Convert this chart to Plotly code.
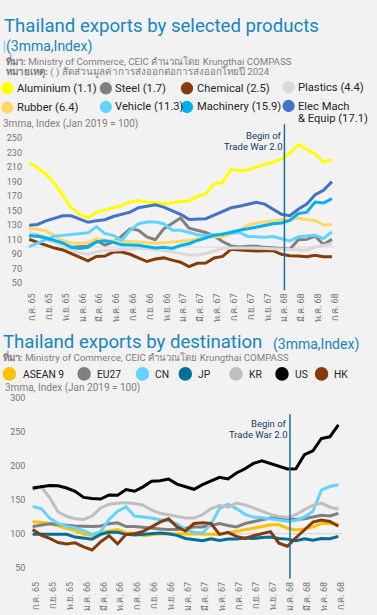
import plotly.graph_objects as go

W, H = 377, 615

# ---------------- data ----------------
months = ["ก.ค. 65", "ส.ค. 65", "ก.ย. 65", "ต.ค. 65", "พ.ย. 65", "ธ.ค. 65",
          "ม.ค. 66", "ก.พ. 66", "มี.ค. 66", "เม.ย. 66", "พ.ค. 66", "มิ.ย. 66",
          "ก.ค. 66", "ส.ค. 66", "ก.ย. 66", "ต.ค. 66", "พ.ย. 66", "ธ.ค. 66",
          "ม.ค. 67", "ก.พ. 67", "มี.ค. 67", "เม.ย. 67", "พ.ค. 67", "มิ.ย. 67",
          "ก.ค. 67", "ส.ค. 67", "ก.ย. 67", "ต.ค. 67", "พ.ย. 67", "ธ.ค. 67",
          "ม.ค. 68", "ก.พ. 68", "มี.ค. 68", "เม.ย. 68", "พ.ค. 68", "มิ.ย. 68",
          "ก.ค. 68"]
tick_months = months[::2]
trade_war_start = 30.35  # position on the month scale (mid-Jan 2025)

# products (3mma index, Jan 2019 = 100)
aluminium = [216, 209, 200, 188, 171, 154, 145, 140, 148, 151, 155, 157, 162, 164, 162, 161, 160, 160.5, 163,
             163, 170, 173, 187, 189, 207, 205, 206, 210, 213, 217, 221, 229, 241, 234, 228, 217, 220]
steel = [116, 115, 112, 107, 102.5, 99.5, 100, 101, 109, 102.5, 107, 115, 125, 123, 114, 110, 125, 133, 140,
         126, 123.5, 120, 115, 107.5, 101.5, 100, 101, 101, 99.5, 98.5, 97.5, 97, 110, 110.5, 115, 103.5, 110.5]
chemical = [110.5, 106.5, 102.5, 98.5, 96, 91, 85, 81, 87, 87.5, 93, 93, 90, 85, 80, 83.5, 85, 82, 79,
            73, 77.5, 78, 85, 87, 97, 96, 95, 94.5, 95, 95, 90, 88, 87.5, 86.5, 88.5, 86.5, 86.5]
plastics = [120.5, 117.5, 114, 107, 101, 96, 92, 90, 93.5, 95.5, 95.5, 96.5, 96.5, 98, 98, 96.5, 95.5, 93.5, 91,
            89, 89, 91, 94.5, 98, 98.5, 98, 98.5, 98.5, 98, 97, 97, 95.5, 95.5, 95.5, 100, 102, 104.5]
rubber = [125.5, 124.5, 122, 115.5, 109, 105.5, 105, 105.8, 111.5, 109, 109, 108, 107.5, 106.5, 105.5, 105, 106, 107, 108,
          109, 111.5, 114, 114, 114, 118.5, 123, 130, 133, 134.5, 136.5, 137.5, 137.5, 140, 137.5, 136.5, 130, 131]
vehicle = [100.5, 105, 110, 115, 116, 117.5, 119, 119.5, 128, 118.5, 116, 109, 123, 132, 134.5, 134.5, 132, 123, 123,
           119.5, 117, 116, 117, 118, 118.5, 120, 114.5, 113.5, 113.5, 114.5, 111.5, 108.5, 114, 114.5, 116, 111.5, 121]
machinery = [115, 115, 112.5, 109.5, 105.5, 99.5, 98, 99.5, 107, 108.5, 106.5, 103, 102.5, 102.5, 100.5, 98.5, 99.5, 98, 102,
             104.5, 109, 113, 116, 117.5, 120.5, 123, 125, 127.5, 130, 132, 133, 136.5, 146, 148, 162, 160.5, 166.5]
elec_mach = [130, 131, 136, 140, 143, 143, 138, 134, 136, 137.5, 142, 145, 148, 154, 156, 158, 155, 150, 145,
             138, 138, 139, 144, 149, 154, 156, 158.5, 161.5, 159, 152, 145, 143, 152, 159, 172, 178, 190]

product_names = ["Aluminium (1.1)", "Steel (1.7)", "Chemical (2.5)", "Plastics (4.4)",
                 "Rubber (6.4)", "Vehicle (11.3)", "Machinery (15.9)", "Elec Mach<br>& Equip (17.1)"]
product_values = [aluminium, steel, chemical, plastics, rubber, vehicle, machinery, elec_mach]
product_colors = ["#FFFF00", "#808080", "#843C0C", "#D9D9D9", "#FFD966", "#63D4FF", "#00B0F0", "#4472C4"]

# destinations (3mma index, Jan 2019 = 100)
asean9 = [117.5, 117, 115, 111, 108, 104.5, 99.5, 97.5, 102, 104, 106, 101.5, 101, 97, 98.5, 99.5, 100, 100, 99.5,
          99, 99.5, 100, 99, 101, 104, 106, 108, 111, 113, 113, 108, 105.5, 107, 110, 115, 115, 114]
eu27 = [110.5, 112.5, 114.5, 113.5, 112, 111.5, 111, 110.5, 111.5, 114.5, 116, 110.5, 110.5, 109, 108, 107, 106, 106, 108,
        110, 110, 113, 115, 112, 110, 115, 118, 121, 123, 123, 122, 121, 122, 125, 127, 126, 130]
cn = [140, 137, 123, 115, 111, 108.5, 104.5, 99, 103, 121, 133, 139.5, 126, 125, 123, 120.5, 119, 114.5, 106.5,
      102, 101, 114, 137, 143.5, 137, 128.5, 124.5, 123.5, 122, 120.5, 118.5, 119.5, 124.5, 133, 164, 169.5, 172]
jp = [99, 99, 98.5, 99, 99, 95, 93, 92, 99, 102, 102, 99, 98, 99, 100, 101, 100, 97.5, 93,
      91.5, 89.5, 92.5, 90, 92, 92, 93.5, 93, 94.5, 95, 93, 92, 89.5, 92.5, 90.5, 93, 92.5, 96]
kr = [165, 169, 153, 132, 125.5, 122, 121, 126, 138, 143.5, 145, 145.5, 144.5, 142, 135, 130, 128, 126, 123,
      123, 128, 137, 141.5, 139, 145, 142.5, 138, 133, 128.5, 125.5, 124, 128, 135.5, 141.5, 145, 139, 136.5]
us = [167.3, 169, 171, 170.5, 167.3, 162.5, 153.5, 152, 151, 157, 156.5, 165, 162.5, 169, 177.2, 178, 180.6, 173, 169,
      165.4, 172.3, 177.2, 183, 180.6, 189.4, 195.7, 203.6, 207.5, 203.6, 199.7, 195.3, 195.7, 216.3, 222.1, 240.2, 242.7, 260.2]
hk = [106, 98, 93, 87, 85, 86.5, 80.5, 76, 88, 97, 85, 99, 100, 103.5, 110, 117, 122, 110, 104,
      115, 116, 115, 99, 102, 96, 93, 97, 100, 103, 86, 81.5, 94, 105.5, 117, 120, 118, 111]

dest_names = ["ASEAN 9", "EU27", "CN", "JP", "KR", "US", "HK"]
dest_values = [asean9, eu27, cn, jp, kr, us, hk]
dest_colors = ["#FFC000", "#7F7F7F", "#63D4FF", "#006E96", "#BFBFBF", "#000000", "#843C0C"]

top_ticks = list(range(50, 251, 20))
bot_ticks = list(range(50, 301, 50))

# ---------------- styling ----------------
BG = "#F2F2F2"
TITLE_C = "#1786BA"
GRAY_T = "#7F7F7F"
DARK_T = "#262626"
NAVY = "#203864"
VLINE_C = "#1B6F98"
FONT = "Roboto, Noto Sans, Open Sans, sans-serif"


def px(x):
    return x / W


def py(y):
    return 1 - y / H


fig = go.Figure()
for name, vals, col in zip(product_names, product_values, product_colors):
    fig.add_trace(go.Scatter(x=months, y=vals, mode="lines", name=name.replace("<br>", " "),
                             line=dict(color=col, width=3), xaxis="x", yaxis="y",
                             showlegend=False, hoverinfo="skip"))
for name, vals, col in zip(dest_names, dest_values, dest_colors):
    fig.add_trace(go.Scatter(x=months, y=vals, mode="lines", name=name,
                             line=dict(color=col, width=3), xaxis="x2", yaxis="y2",
                             showlegend=False, hoverinfo="skip"))

axis_common = dict(showgrid=False, zeroline=False, showline=False, ticks="")
tickfont = dict(family=FONT, size=9, color="#737373")

fig.update_layout(
    width=W, height=H,
    margin=dict(l=0, r=0, t=0, b=0),
    paper_bgcolor=BG, plot_bgcolor=BG,
    font=dict(family=FONT),
    showlegend=False,
    xaxis=dict(domain=[px(25.25), px(339.75)], anchor="y", type="category",
               categoryorder="array", categoryarray=months,
               range=[-0.5, 36.5], tickmode="array", tickvals=tick_months,
               tickangle=-90, tickfont=tickfont, ticklabelshift=3, **axis_common),
    yaxis=dict(domain=[py(289), py(121.1)], anchor="x", range=[40, 270],
               tickmode="array", tickvals=top_ticks, tickfont=tickfont,
               ticklabelstandoff=2, **axis_common),
    xaxis2=dict(domain=[px(28.7), px(346.3)], anchor="y2", type="category",
                categoryorder="array", categoryarray=months,
                range=[-0.5, 36.5], tickmode="array", tickvals=tick_months,
                tickangle=-90, tickfont=tickfont, ticklabelshift=3, **axis_common),
    yaxis2=dict(domain=[py(579), py(395.5)], anchor="x2", range=[33, 302],
                tickmode="array", tickvals=bot_ticks, tickfont=tickfont,
                ticklabelstandoff=2, **axis_common),
)

shapes = []
# 100 baselines
shapes.append(dict(type="line", xref="x", yref="y", x0=-0.3, x1=36.3, y0=100, y1=100,
                   line=dict(color="#D9D9D9", width=1.2), layer="below"))
shapes.append(dict(type="line", xref="x2", yref="y2", x0=-0.3, x1=36.5, y0=100, y1=100,
                   line=dict(color="#D9D9D9", width=1.2), layer="below"))
# trade war markers
shapes.append(dict(type="line", xref="x", yref="y", x0=trade_war_start, x1=trade_war_start,
                   y0=40, y1=269, line=dict(color=VLINE_C, width=1.5)))
shapes.append(dict(type="line", xref="x2", yref="y2", x0=trade_war_start - 0.05, x1=trade_war_start - 0.05,
                   y0=34, y1=276, line=dict(color=VLINE_C, width=1.5)))
# accent bar near subtitle
shapes.append(dict(type="line", xref="paper", yref="paper", x0=px(4.5), x1=px(4.5), y0=py(50), y1=py(38),
                   line=dict(color="#8FD3EE", width=1.5)))

annotations = []


def text(x, y, s, size, color, anchor="left"):
    annotations.append(dict(xref="paper", yref="paper", x=px(x), y=py(y), text=s,
                            showarrow=False, xanchor=anchor, yanchor="middle",
                            align=anchor if anchor != "center" else "center",
                            font=dict(family=FONT, size=size, color=color)))


def dot(cx, cy, r, color):
    shapes.append(dict(type="circle", xref="paper", yref="paper",
                       x0=px(cx - r), x1=px(cx + r), y0=py(cy + r), y1=py(cy - r),
                       fillcolor=color, line=dict(width=0)))


# ---- top block text ----
text(2, 23.5, "Thailand exports by selected products", 18.6, TITLE_C)
text(4, 44, "(3mma,Index)", 14, TITLE_C)
text(4, 58, "<b>ที่มา:</b> Ministry of Commerce, CEIC คำนวณโดย Krungthai COMPASS", 9.7, GRAY_T)
text(4, 69, "<b>หมายเหตุ:</b> ( ) สัดส่วนมูลค่าการส่งออกต่อการส่งออกไทยปี 2024", 9.8, GRAY_T)

leg_top = [(7.3, 85.7, 15), (107, 85.7, 114.5), (189, 85.7, 197.5), (291.7, 84.5, 299),
           (7.3, 105, 15), (107, 104.5, 114.5), (189, 104.5, 197.5), (291.7, 103.5, 299)]
for (cx, cy, tx), name, col in zip(leg_top, product_names, product_colors):
    dot(cx, cy, 6.2, col)
    if "<br>" in name:
        l1, l2 = name.split("<br>")
        text(tx, 104.5, l1, 11.2, DARK_T)
        text(tx, 116, l2, 11.2, DARK_T)
    else:
        text(tx, cy, name, 11.2, DARK_T)

text(1, 121.5, "3mma, Index (Jan 2019 = 100)", 10, GRAY_T)
text(287.5, 133.3, "Begin of", 9.5, NAVY, anchor="right")
text(287.5, 144.3, "Trade War 2.0", 9.5, NAVY, anchor="right")

# ---- bottom block text ----
text(1, 340.5, "Thailand exports by destination", 18.6, TITLE_C)
text(274, 343, "(3mma,Index)", 14, TITLE_C)
text(1, 355.5, "<b>ที่มา:</b> Ministry of Commerce, CEIC คำนวณโดย Krungthai COMPASS", 9.7, GRAY_T)

leg_bot = [(9.5, 21), (85, 96), (144, 155), (187.3, 198.5), (238.5, 250), (285, 296.5), (325, 335.5)]
for (cx, tx), name, col in zip(leg_bot, dest_names, dest_colors):
    dot(cx, 372.7, 6.8, col)
    text(tx, 373, name, 10.3, DARK_T)

text(3, 386.5, "3mma, Index (Jan 2019 = 100)", 10, GRAY_T)
text(292.5, 422.7, "Begin of", 9.5, NAVY, anchor="right")
text(292.5, 433.5, "Trade War 2.0", 9.5, NAVY, anchor="right")

fig.update_layout(shapes=shapes, annotations=annotations)
fig.write_html("out.html",
               config={"displayModeBar": False},
               post_script="document.body.style.margin='0';document.body.style.overflow='hidden';")
